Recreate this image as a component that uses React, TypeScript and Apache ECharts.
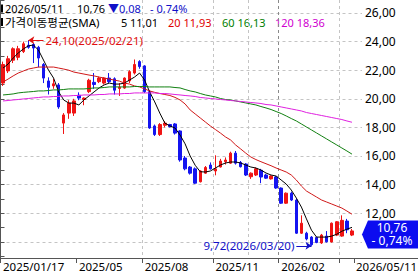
import React, { useEffect, useRef } from 'react';
import * as echarts from 'echarts';

// Weekly candles (2025/01/17 .. 2026/05/11)
const dates = [
  '2025/01/17', '2025/01/24', '2025/01/31', '2025/02/07', '2025/02/14', '2025/02/21', '2025/02/28', '2025/03/07', '2025/03/14', '2025/03/21',
  '2025/03/28', '2025/04/04', '2025/04/11', '2025/04/18', '2025/04/25', '2025/05/02', '2025/05/09', '2025/05/16', '2025/05/23', '2025/05/30',
  '2025/06/06', '2025/06/13', '2025/06/20', '2025/06/27', '2025/07/04', '2025/07/11', '2025/07/18', '2025/07/25', '2025/08/01', '2025/08/08',
  '2025/08/15', '2025/08/22', '2025/08/29', '2025/09/05', '2025/09/12', '2025/09/19', '2025/09/26', '2025/10/03', '2025/10/10', '2025/10/17',
  '2025/10/24', '2025/10/31', '2025/11/07', '2025/11/14', '2025/11/21', '2025/11/28', '2025/12/05', '2025/12/12', '2025/12/19', '2025/12/26',
  '2026/01/02', '2026/01/09', '2026/01/16', '2026/01/23', '2026/01/30', '2026/02/06', '2026/02/13', '2026/02/20', '2026/02/27', '2026/03/06',
  '2026/03/13', '2026/03/20', '2026/03/27', '2026/04/03', '2026/04/10', '2026/04/17', '2026/04/24', '2026/05/01', '2026/05/08', '2026/05/11',
];

const opens = [
  21.1, 21.95, 22.7, 22.9, 23.3, 23.75, 23.8, 23.6, 22.4, 21.25,
  20.9, 20.97, 18.3, 19.0, 19.0, 20.25, 19.95, 20.5, 21.15, 21.2,
  21.1, 21.45, 21.4, 20.72, 20.75, 21.25, 21.8, 22.6, 22.3, 20.5,
  18.1, 17.5, 18.15, 18.2, 18.24, 17.75, 15.86, 15.23, 15.1, 14.2,
  14.8, 15.37, 14.95, 15.23, 15.6, 15.5, 16.2, 15.55, 15.44, 14.55,
  14.67, 15.0, 14.67, 14.4, 14.53, 13.76, 12.7, 13.4, 12.92, 10.6,
  10.6, 10.33, 10.3, 9.92, 10.4, 9.99, 10.47, 10.4, 11.45, 10.47,
];
const closes = [
  22.4, 22.8, 23.5, 23.5, 23.85, 23.6, 23.55, 22.85, 21.45, 20.8,
  21.05, 19.43, 18.87, 19.7, 19.85, 20.05, 20.05, 21.3, 21.0, 21.45,
  21.45, 21.2, 20.6, 20.8, 21.45, 21.9, 22.4, 22.25, 20.5, 17.96,
  17.5, 18.2, 18.3, 18.05, 17.6, 15.72, 15.1, 14.8, 14.1, 14.95,
  15.2, 15.1, 15.1, 15.65, 15.72, 16.2, 15.5, 15.25, 14.67, 14.8,
  15.1, 14.53, 14.45, 14.6, 13.76, 12.7, 13.4, 12.92, 10.6, 11.3,
  10.2, 9.8, 9.95, 10.47, 10.0, 11.3, 11.4, 11.5, 10.84, 10.76,
];
const lows = [
  20.9, 21.8, 22.5, 22.7, 23.2, 23.5, 22.5, 22.2, 21.1, 20.3,
  20.7, 19.3, 17.54, 18.6, 18.8, 19.9, 19.55, 20.4, 20.7, 21.1,
  21.0, 21.1, 20.3, 20.2, 20.7, 21.1, 21.7, 22.1, 20.4, 17.9,
  17.4, 17.4, 18.0, 18.0, 17.5, 15.6, 15.0, 14.7, 14.05, 14.15,
  14.75, 15.05, 14.65, 15.2, 15.4, 15.45, 15.4, 15.2, 14.6, 14.4,
  14.6, 14.1, 14.4, 14.35, 13.7, 12.65, 12.65, 12.85, 10.55, 10.55,
  10.1, 9.72, 9.9, 9.85, 9.95, 9.95, 10.4, 10.35, 10.6, 10.4,
];
const highs = [
  22.6, 23.0, 23.6, 23.7, 24.0, 24.1, 23.9, 23.7, 22.5, 21.5,
  21.4, 21.1, 19.0, 19.9, 20.0, 20.45, 20.1, 21.4, 21.8, 21.55,
  21.5, 21.8, 21.5, 21.1, 21.5, 22.0, 22.75, 22.7, 22.35, 20.6,
  18.2, 18.3, 18.45, 18.25, 18.3, 17.8, 16.0, 15.3, 15.2, 15.0,
  15.3, 15.55, 16.05, 15.8, 15.9, 16.3, 16.35, 15.65, 15.5, 14.85,
  15.2, 15.1, 14.75, 14.65, 14.6, 13.8, 13.45, 13.5, 13.0, 11.85,
  10.7, 10.4, 10.35, 10.55, 10.75, 11.35, 11.45, 11.85, 11.6, 10.9,
];

const ma5 = [
  22.15, 22.43, 22.85, 23.2, 23.48, 23.7, 23.76, 23.41, 22.71, 22.0,
  21.45, 20.48, 19.92, 19.7, 19.7, 19.57, 19.92, 20.2, 20.48, 20.76,
  20.97, 21.1, 21.03, 21.03, 21.1, 21.31, 21.52, 21.8, 21.31, 20.48,
  19.78, 19.0, 18.3, 18.1, 17.96, 17.47, 16.85, 16.0, 15.35, 14.9,
  14.88, 14.95, 15.16, 15.37, 15.51, 15.58, 15.58, 15.51, 15.37, 15.23,
  15.16, 15.02, 14.81, 14.67, 14.6, 14.32, 14.04, 13.62, 13.06, 12.43,
  11.6, 10.81, 10.33, 10.33, 10.33, 10.4, 10.53, 10.74, 10.88, 11.01,
];
const ma20 = [
  21.17, 21.38, 21.6, 21.8, 21.94, 22.08, 22.15, 22.22, 22.22, 22.22,
  22.22, 22.15, 22.08, 22.0, 21.87, 21.8, 21.73, 21.66, 21.6, 21.52,
  21.45, 21.38, 21.31, 21.24, 21.1, 21.03, 20.9, 20.83, 20.69, 20.55,
  20.45, 20.37, 20.3, 20.23, 20.1, 19.92, 19.64, 19.22, 18.94, 18.66,
  18.38, 18.1, 17.85, 17.6, 17.33, 17.12, 16.77, 16.49, 16.2, 15.93,
  15.75, 15.6, 15.46, 15.32, 15.16, 15.02, 14.88, 14.67, 14.32, 13.9,
  13.55, 13.34, 13.13, 12.92, 12.78, 12.64, 12.5, 12.36, 12.15, 11.93,
];
const ma60 = [
  20.27, 20.3, 20.34, 20.41, 20.45, 20.48, 20.51, 20.55, 20.55, 20.58,
  20.62, 20.62, 20.65, 20.69, 20.69, 20.69, 20.69, 20.72, 20.76, 20.76,
  20.79, 20.83, 20.83, 20.83, 20.83, 20.83, 20.86, 20.86, 20.86, 20.83,
  20.83, 20.83, 20.83, 20.83, 20.79, 20.76, 20.65, 20.55, 20.48, 20.37,
  20.27, 20.2, 20.13, 20.02, 19.95, 19.92, 19.85, 19.78, 19.71, 19.64,
  19.57, 19.46, 19.36, 19.25, 19.11, 18.97, 18.8, 18.62, 18.45, 18.24,
  18.03, 17.82, 17.61, 17.4, 17.19, 16.98, 16.77, 16.56, 16.35, 16.13,
];
const ma120 = [
  19.85, 19.88, 19.92, 19.95, 19.99, 20.02, 20.06, 20.09, 20.13, 20.13,
  20.16, 20.16, 20.2, 20.2, 20.23, 20.23, 20.27, 20.27, 20.27, 20.3,
  20.3, 20.34, 20.34, 20.34, 20.37, 20.37, 20.41, 20.41, 20.41, 20.41,
  20.41, 20.37, 20.37, 20.34, 20.3, 20.27, 20.23, 20.2, 20.16, 20.09,
  20.06, 20.02, 19.99, 19.95, 19.92, 19.88, 19.85, 19.81, 19.78, 19.74,
  19.71, 19.67, 19.6, 19.57, 19.5, 19.43, 19.36, 19.29, 19.22, 19.15,
  19.04, 18.97, 18.9, 18.83, 18.76, 18.69, 18.62, 18.55, 18.45, 18.36,
];

const xTickIdx = [0, 15, 28, 42, 55, 67];
const xLabelIdx = [0, 15, 28, 42, 55, 69];
const xLabelText = ['2025/01/17', '2025/05', '2025/08', '2025/11', '2026/02', '2026/05/11'];
const xGridIdx = [15, 28, 42, 49, 55, 67];
const xGridColor = ['#c4c4c4', '#c4c4c4', '#c4c4c4', '#8a8a8a', '#c4c4c4', '#c4c4c4'];

const Y_MIN = 8.867;
const Y_MAX = 26.909;

const UP = '#f01414';
const DOWN = '#1414f0';
const C_MA20 = '#d01818';
const C_MA60 = '#108010';
const C_MA120 = '#e020e0';
const FONT = '"Noto Sans", "Noto Sans CJK KR", sans-serif';

const fmt = (v: number) => v.toFixed(2).replace('.', ',');

export default function App() {
  const ref = useRef<HTMLDivElement>(null);
  useEffect(() => {
    const chart = echarts.init(ref.current!, null, { renderer: 'svg' });
    const last = closes.length - 1;
    const chg = closes[last] - closes[last - 1];
    const pct = (chg / closes[last - 1]) * 100;
    const sign = chg < 0 ? '-' : '+';
    const chgText = `${chg < 0 ? '▼' : '▲'}${fmt(Math.abs(chg))}`;
    const pctText = `${sign} ${fmt(Math.abs(pct))}%`;
    const hiIdx = highs.indexOf(Math.max(...highs));
    const loIdx = lows.indexOf(Math.min(...lows));

    const txt = (text: string, x: number, y: number, fill: string, size = 11) => ({
      type: 'text', x, y, silent: true,
      style: { text, fill, fontSize: size, lineHeight: 11, fontFamily: FONT, verticalAlign: 'middle' },
    });

    const option: any = {
      animation: false,
      backgroundColor: '#ffffff',
      grid: [
        { left: 0.5, width: 354, top: 0, bottom: 16, outerBoundsMode: 'none' },
        { left: 0.5, right: 56, top: 0, bottom: 16, outerBoundsMode: 'none' },
      ],
      xAxis: [
        {
          type: 'category', gridIndex: 0, data: dates, boundaryGap: true,
          axisLine: { show: false },
          axisTick: { show: true, interval: (i: number) => xTickIdx.includes(i), length: 5, lineStyle: { color: '#555' } },
          axisLabel: {
            interval: (i: number) => xLabelIdx.includes(i),
            formatter: (_v: string, i: number) => {
              const k = xLabelIdx.indexOf(i);
              if (k < 0) return '';
              return k === xLabelIdx.length - 1 ? `{e|${xLabelText[k]}}` : xLabelText[k];
            },
            rich: { e: { padding: [0, 0, 0, 4], fontSize: 11.5, lineHeight: 12, fontFamily: FONT, color: '#000' } },
            align: 'left', margin: 2, color: '#000', fontSize: 11.5, lineHeight: 12, fontFamily: FONT,
          },
          splitLine: {
            show: true, interval: (i: number) => xGridIdx.includes(i), showMinLine: false, showMaxLine: false,
            lineStyle: { color: xGridColor, type: [3, 3], width: 1 },
          },
        },
        { type: 'value', gridIndex: 1, min: 0, max: 1, show: false },
      ],
      yAxis: [
        { type: 'value', gridIndex: 0, min: Y_MIN, max: Y_MAX, show: false, splitLine: { show: false } },
        {
          type: 'value', gridIndex: 1, min: Y_MIN, max: Y_MAX, splitNumber: 9, position: 'right',
          axisLine: { show: true, lineStyle: { color: '#555' } },
          axisTick: { show: true, length: 4, lineStyle: { color: '#555' } },
          minorTick: { show: true, splitNumber: 2, length: 4, lineStyle: { color: '#555' } },
          axisLabel: { formatter: (v: number) => fmt(v), showMinLabel: false, showMaxLabel: false, margin: 3, color: '#000', fontSize: 12, lineHeight: 11, fontFamily: FONT },
          splitLine: { show: true, showMinLine: false, showMaxLine: false, lineStyle: { color: '#c4c4c4', type: [3, 3] } },
        },
      ],
      graphic: [
        { type: 'line', silent: true, shape: { x1: 0, y1: 258.5, x2: 418, y2: 258.5 }, style: { stroke: '#555', lineWidth: 1 } },
        { type: 'rect', silent: true, shape: { x: 1, y: 4.5, width: 2, height: 8 }, style: { fill: '#000' } },
        txt(dates[last], 5, 8.5, '#000'),
        txt(fmt(closes[last]), 77, 8.5, '#000'),
        txt(chgText, 108, 8.5, '#1010c8'),
        txt(pctText, 150, 8.5, '#1010c8'),
        { type: 'rect', silent: true, shape: { x: 1, y: 18, width: 2, height: 8 }, style: { fill: '#000' } },
        txt('가격이동평균(SMA)', 5, 22, '#000', 11.5),
        txt('5', 121, 22, '#000'),
        txt(fmt(ma5[last]), 130, 22, '#000'),
        txt(`20 ${fmt(ma20[last])}`, 168, 22, '#e00000'),
        txt(`60 ${fmt(ma60[last])}`, 222, 22, '#008000'),
        txt(`120 ${fmt(ma120[last])}`, 275, 22, '#d000d0'),
      ],
      series: [
        {
          type: 'candlestick', xAxisIndex: 0, yAxisIndex: 0, barWidth: 3,
          data: opens.map((o, i) => [o, closes[i], lows[i], highs[i]]),
          itemStyle: { color: UP, color0: DOWN, borderColor: UP, borderColor0: DOWN, borderWidth: 1 },
          markLine: {
            silent: true, animation: false, symbolSize: 6, precision: 2,
            data: [
              [
                {
                  name: `${fmt(highs[hiIdx])}(${dates[hiIdx]})`, coord: [dates[hiIdx], highs[hiIdx]], symbol: 'arrow',
                  lineStyle: { color: '#e01010', type: 'solid', width: 1 },
                  label: { show: true, position: 'end', distance: 2, formatter: '{b}', color: '#e01010', fontSize: 11.5, fontFamily: FONT },
                },
                { coord: [dates[hiIdx + 3], highs[hiIdx]], symbol: 'none' },
              ],
              [
                {
                  name: `${fmt(lows[loIdx])}(${dates[loIdx]})`, coord: [dates[loIdx - 3], lows[loIdx]], symbol: 'none',
                  lineStyle: { color: '#1010c8', type: 'solid', width: 1 },
                  label: { show: true, position: 'start', distance: 2, formatter: '{b}', color: '#1010c8', fontSize: 11.5, fontFamily: FONT },
                },
                { coord: [dates[loIdx], lows[loIdx]], symbol: 'arrow' },
              ],
            ],
          },
          markPoint: {
            silent: true, animation: false,
            data: [
              {
                coord: [dates[last], closes[last]],
                symbol: 'path://M0,14L6,0L56,0L56,28L6,28Z', symbolSize: [56, 28], symbolOffset: [38, 3.5],
                itemStyle: { color: '#0c0cf0' },
                label: {
                  show: true, position: 'inside', offset: [2, 0],
                  formatter: `${fmt(closes[last])}\n${pctText}`,
                  color: '#fff', fontSize: 12, lineHeight: 13, fontFamily: FONT,
                },
              },
            ],
          },
        },
        { type: 'line', name: 'MA5', data: ma5, xAxisIndex: 0, yAxisIndex: 0, showSymbol: false, silent: true, z: 3, lineStyle: { color: '#000', width: 1 } },
        { type: 'line', name: 'MA20', data: ma20, xAxisIndex: 0, yAxisIndex: 0, showSymbol: false, silent: true, z: 3, lineStyle: { color: C_MA20, width: 1 } },
        { type: 'line', name: 'MA60', data: ma60, xAxisIndex: 0, yAxisIndex: 0, showSymbol: false, silent: true, z: 3, lineStyle: { color: C_MA60, width: 1 } },
        { type: 'line', name: 'MA120', data: ma120, xAxisIndex: 0, yAxisIndex: 0, showSymbol: false, silent: true, z: 3, lineStyle: { color: C_MA120, width: 1 } },
      ],
    };
    chart.setOption(option);
    return () => chart.dispose();
  }, []);
  return <div ref={ref} style={{ position: 'fixed', left: 0, top: 0, width: 418, height: 274, background: '#fff' }} />;
}
